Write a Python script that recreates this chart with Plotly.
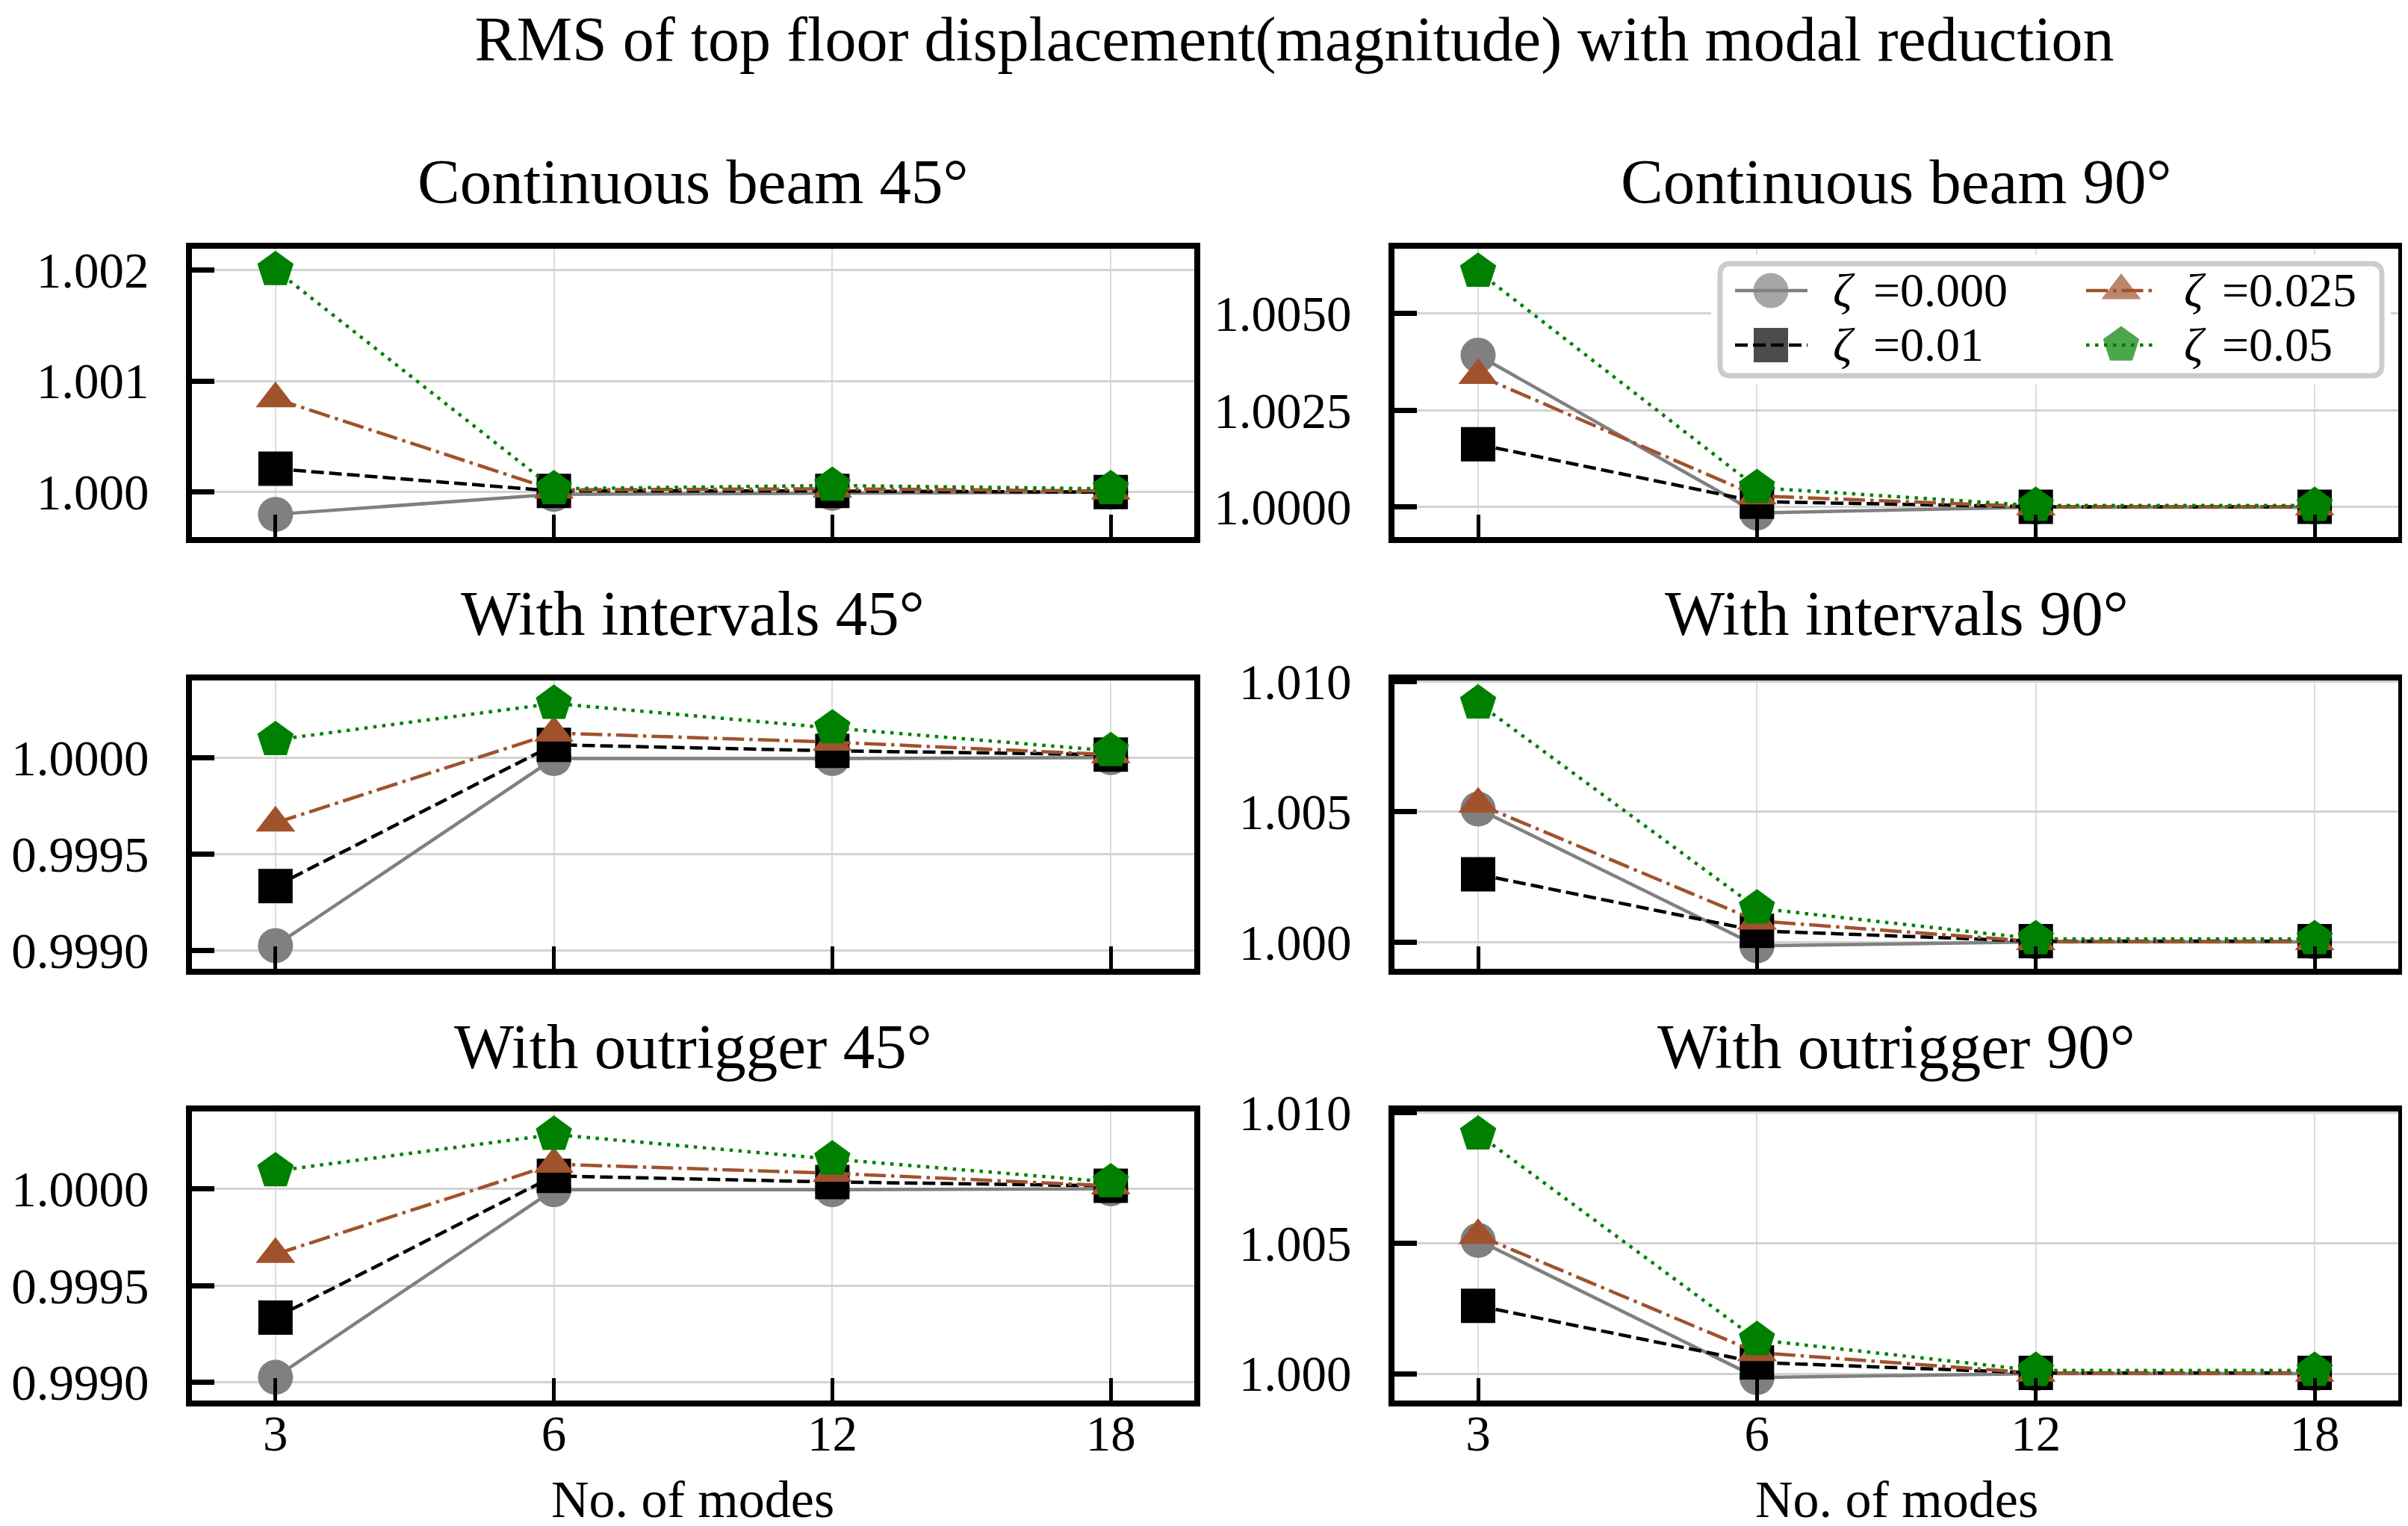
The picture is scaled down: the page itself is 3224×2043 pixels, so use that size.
import plotly.graph_objects as go

W, H = 3224, 2043
FONT = "Liberation Serif"

# ---------------- data ----------------
modes = ["3", "6", "12", "18"]
zeta_labels = ["0.000", "0.01", "0.025", "0.05"]

# Continuous beam 45°
cb45_z0000 = [0.99980, 0.99998, 0.99999, 1.00000]
cb45_z0010 = [1.00021, 1.00001, 1.00001, 1.00000]
cb45_z0025 = [1.00084, 1.00002, 1.00003, 1.00001]
cb45_z0050 = [1.00200, 1.00003, 1.00006, 1.00003]
# Continuous beam 90°
cb90_z0000 = [1.00392, 0.99985, 1.00000, 1.00000]
cb90_z0010 = [1.00162, 1.00014, 1.00001, 1.00001]
cb90_z0025 = [1.00340, 1.00029, 1.00001, 1.00001]
cb90_z0050 = [1.00608, 1.00050, 1.00004, 1.00004]
# With intervals 45°
wi45_z0000 = [0.999027, 0.999995, 0.999995, 1.000000]
wi45_z0010 = [0.999335, 1.000066, 1.000035, 1.000015]
wi45_z0025 = [0.999662, 1.000127, 1.000080, 1.000015]
wi45_z0050 = [1.000092, 1.000280, 1.000153, 1.000035]
# With intervals 90°
wi90_z0000 = [1.00511, 0.99985, 1.00000, 1.00000]
wi90_z0010 = [1.00260, 1.00043, 1.00003, 1.00003]
wi90_z0025 = [1.00530, 1.00081, 1.00002, 1.00002]
wi90_z0050 = [1.00918, 1.00130, 1.00012, 1.00012]
# With outrigger 45°
wo45_z0000 = [0.999027, 0.999995, 0.999995, 1.000000]
wo45_z0010 = [0.999335, 1.000066, 1.000035, 1.000015]
wo45_z0025 = [0.999662, 1.000127, 1.000080, 1.000015]
wo45_z0050 = [1.000092, 1.000280, 1.000153, 1.000035]
# With outrigger 90°
wo90_z0000 = [1.00511, 0.99985, 1.00000, 1.00000]
wo90_z0010 = [1.00260, 1.00043, 1.00003, 1.00003]
wo90_z0025 = [1.00530, 1.00081, 1.00002, 1.00002]
wo90_z0050 = [1.00918, 1.00130, 1.00012, 1.00012]

panel_titles = ["Continuous beam 45°", "Continuous beam 90°",
                "With intervals 45°", "With intervals 90°",
                "With outrigger 45°", "With outrigger 90°"]
panel_series = [
    [cb45_z0000, cb45_z0010, cb45_z0025, cb45_z0050],
    [cb90_z0000, cb90_z0010, cb90_z0025, cb90_z0050],
    [wi45_z0000, wi45_z0010, wi45_z0025, wi45_z0050],
    [wi90_z0000, wi90_z0010, wi90_z0025, wi90_z0050],
    [wo45_z0000, wo45_z0010, wo45_z0025, wo45_z0050],
    [wo90_z0000, wo90_z0010, wo90_z0025, wo90_z0050],
]
# y-axis ranges, tick steps and formats per panel
panel_yrange = [[0.999596, 1.002189], [0.999227, 1.006667],
                [0.998907, 1.000399], [0.99897, 1.01005],
                [0.998907, 1.000399], [0.99897, 1.01005]]
panel_dtick = [0.001, 0.0025, 0.0005, 0.005, 0.0005, 0.005]
panel_fmt = [".3f", ".4f", ".4f", ".3f", ".4f", ".3f"]

# ---------------- styles ----------------
series_style = [
    dict(color="#808080", dash="solid", symbol="circle", size=47),
    dict(color="#000000", dash="17px,7px", symbol="square", size=46),
    dict(color="#a0522d", dash="29px,7px,4.5px,7px", symbol="triangle-up", size=46),
    dict(color="#008000", dash="4.5px,7.5px", symbol="pentagon", size=51),
]
LW = 4.5

# layout geometry in pixels
col_x = [(249, 1591), (1859, 3203)]
row_y = [(325, 711), (903, 1289), (1480, 1867)]
title_y = [235, 813, 1393]
SUPTITLE_X, SUPTITLE_TOP = 1725, 14
XLABEL_Y = 1999

fig = go.Figure()
layout = dict(width=W, height=H,
              margin=dict(l=0, r=0, t=0, b=0, pad=0, autoexpand=False),
              paper_bgcolor="white", plot_bgcolor="white", showlegend=False,
              font=dict(family=FONT, color="black"))
annotations = []

for p in range(6):
    r, c = divmod(p, 2)
    idx = p + 1
    xa = "xaxis" if idx == 1 else f"xaxis{idx}"
    ya = "yaxis" if idx == 1 else f"yaxis{idx}"
    xref = "x" if idx == 1 else f"x{idx}"
    yref = "y" if idx == 1 else f"y{idx}"
    x0, x1 = col_x[c]
    y0, y1 = row_y[r]
    layout[xa] = dict(
        domain=[x0 / W, x1 / W], anchor=yref, type="category", automargin=False,
        range=[-0.3, 3.3], ticks="inside", ticklen=30, tickwidth=5,
        tickcolor="black", showline=True, linewidth=8, linecolor="black",
        mirror=True, showgrid=True, gridcolor="#dcdcdc", gridwidth=1.5,
        showticklabels=(r == 2), tickfont=dict(size=67, family=FONT, color="black"),
        ticklabelstandoff=-21, zeroline=False)
    layout[ya] = dict(
        domain=[1 - y1 / H, 1 - y0 / H], anchor=xref, automargin=False,
        range=panel_yrange[p], tickmode="linear", tick0=1.0, dtick=panel_dtick[p],
        tickformat=panel_fmt[p], ticks="inside", ticklen=30, tickwidth=7,
        tickcolor="black", showline=True, linewidth=8, linecolor="black",
        mirror=True, showgrid=True, gridcolor="#d2d2d2", gridwidth=2.5,
        zeroline=False, tickfont=dict(size=67, family=FONT, color="black"),
        ticklabelstandoff=36)
    for s, vals in enumerate(panel_series[p]):
        st = series_style[s]
        fig.add_trace(go.Scatter(
            x=modes, y=vals, xaxis=xref, yaxis=yref, mode="lines+markers",
            name="ζ =" + zeta_labels[s], showlegend=False,
            line=dict(color=st["color"], width=LW, dash=st["dash"]),
            marker=dict(symbol=st["symbol"], size=st["size"], color=st["color"],
                        line=dict(width=0))))
    annotations.append(dict(
        text=panel_titles[p], xref="paper", yref="paper",
        x=(x0 + x1) / 2 / W, y=1 - title_y[r] / H, xanchor="center",
        yanchor="middle", showarrow=False, font=dict(size=85, family=FONT)))
    if r == 2:
        annotations.append(dict(
            text="No. of modes", xref="paper", yref="paper",
            x=(x0 + x1) / 2 / W, y=1 - XLABEL_Y / H, xanchor="center",
            yanchor="middle", showarrow=False, font=dict(size=70, family=FONT)))

# ---------------- custom legend (own overlay axes) ----------------
LEG_X0, LEG_Y0, LEG_W, LEG_H, PAD = 2295, 345, 886, 150, 12
layout["xaxis7"] = dict(domain=[(LEG_X0 - PAD) / W, (LEG_X0 + LEG_W + PAD) / W],
                        anchor="y7", range=[-PAD, LEG_W + PAD], visible=False,
                        fixedrange=True, automargin=False)
layout["yaxis7"] = dict(domain=[1 - (LEG_Y0 + LEG_H + PAD) / H, 1 - (LEG_Y0 - PAD) / H],
                        anchor="x7", range=[LEG_H + PAD, -PAD], visible=False,
                        fixedrange=True, automargin=False)
rr = 14
frame_path = (f"M {rr},0 L {LEG_W - rr},0 Q {LEG_W},0 {LEG_W},{rr} "
              f"L {LEG_W},{LEG_H - rr} Q {LEG_W},{LEG_H} {LEG_W - rr},{LEG_H} "
              f"L {rr},{LEG_H} Q 0,{LEG_H} 0,{LEG_H - rr} L 0,{rr} Q 0,0 {rr},0 Z")
layout["shapes"] = [dict(type="path", path=frame_path, xref="x7", yref="y7",
                         layer="below", fillcolor="rgba(255,255,255,0.8)",
                         line=dict(color="#cccccc", width=7))]

# legend slots (column-major like matplotlib): line start, marker, line end,
# zeta symbol start, "=value" start
leg_cols = [(20, 68, 117, 149, 203), (490, 537, 581, 619, 670)]
leg_rows = [36, 109]
for s in range(4):
    col, row = divmod(s, 2)
    lx0, lxm, lx1, zx, tx = leg_cols[col]
    ly = leg_rows[row]
    st = series_style[s]
    fig.add_trace(go.Scatter(
        x=[lx0, lxm, lx1], y=[ly, ly, ly], xaxis="x7", yaxis="y7",
        mode="lines+markers", showlegend=False, hoverinfo="skip",
        line=dict(color=st["color"], width=LW, dash=st["dash"]),
        marker=dict(symbol=st["symbol"], size=[0, st["size"], 0],
                    color=st["color"], line=dict(width=0))))
    annotations.append(dict(
        text="<i>ζ</i>", xref="x7", yref="y7", x=zx, y=ly,
        xanchor="left", yanchor="middle", showarrow=False,
        font=dict(size=64, family=FONT)))
    annotations.append(dict(
        text="=" + zeta_labels[s], xref="x7", yref="y7", x=tx, y=ly,
        xanchor="left", yanchor="middle", showarrow=False,
        font=dict(size=64, family=FONT)))

layout["annotations"] = annotations
layout["title"] = dict(text="RMS of top floor displacement(magnitude) with modal reduction",
                       x=SUPTITLE_X / W, xanchor="center", xref="paper",
                       y=1 - SUPTITLE_TOP / H, yanchor="top", yref="paper",
                       automargin=False,
                       font=dict(size=84, family=FONT, color="black"))
fig.update_layout(**layout)
fig.write_html("out.html")
